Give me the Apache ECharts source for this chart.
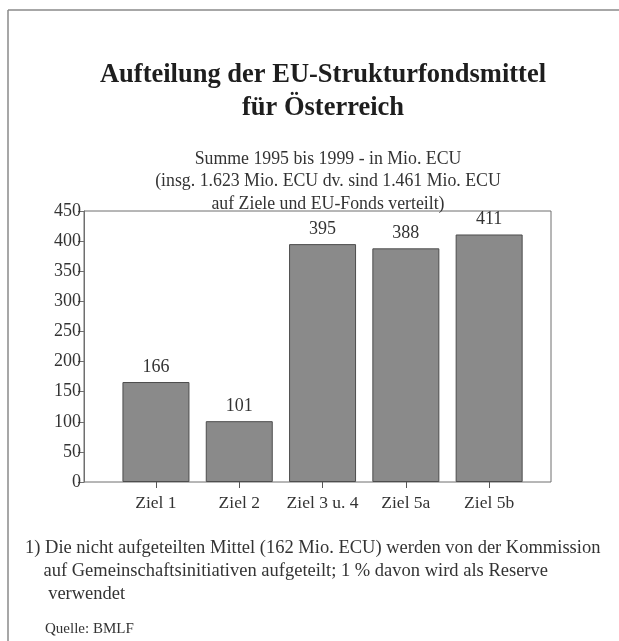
<!DOCTYPE html>
<html>
<head>
<meta charset="utf-8">
<style>
  html, body { margin: 0; padding: 0; background: #ffffff; }
  #chart { width: 619px; height: 641px; }
</style>
<script src="https://cdn.jsdelivr.net/npm/echarts@6/dist/echarts.min.js"></script>
</head>
<body>
<div id="chart"></div>
<script>
// Strukturfonds-Mittel 1995–1999 nach Zielen (Mio. ECU)
const categories = ['Ziel 1', 'Ziel 2', 'Ziel 3 u. 4', 'Ziel 5a', 'Ziel 5b'];
const values = [166, 101, 395, 388, 411];
const yTicks = [0, 50, 100, 150, 200, 250, 300, 350, 400, 450];

const titleText = 'Aufteilung der EU-Strukturfondsmittel\nfür Österreich';
const subtitleText = 'Summe 1995 bis 1999 - in Mio. ECU\n(insg. 1.623 Mio. ECU dv. sind 1.461 Mio. ECU\nauf Ziele und EU-Fonds verteilt)';
const noteLines = [
  '1) Die nicht aufgeteilten Mittel (162 Mio. ECU) werden von der Kommission',
  '    auf Gemeinschaftsinitiativen aufgeteilt; 1 % davon wird als Reserve',
  '     verwendet'
];
const sourceText = 'Quelle: BMLF';

const serif = '"Liberation Serif", "DejaVu Serif", serif';
const ink = '#333333';

const chart = echarts.init(document.getElementById('chart'), null, { renderer: 'canvas' });

chart.setOption({
  backgroundColor: '#ffffff',
  animation: false,
  title: [
    {
      text: titleText,
      left: 318, top: 54, textAlign: 'center',
      textStyle: { fontFamily: serif, fontSize: 26.5, fontWeight: 'bold', color: '#1e1e1e', lineHeight: 33 }
    },
    {
      text: subtitleText,
      left: 323, top: 143, textAlign: 'center',
      textStyle: { fontFamily: serif, fontSize: 17.8, fontWeight: 'normal', color: ink, lineHeight: 22.5, align: 'center' }
    },
    {
      text: noteLines.join('\n'),
      left: 20, top: 532,
      textStyle: { fontFamily: serif, fontSize: 18.5, fontWeight: 'normal', color: ink, lineHeight: 23 }
    },
    {
      text: sourceText,
      left: 40, top: 617,
      textStyle: { fontFamily: serif, fontSize: 15, fontWeight: 'normal', color: ink }
    }
  ],
  grid: [
    // plotting grid for the bars
    { left: 114.3, top: 211, width: 416.5, height: 271, containLabel: false },
    // outer frame of the plot area
    { left: 84, top: 211, width: 467, height: 271, show: true, borderColor: '#6f6f6f', borderWidth: 1, backgroundColor: 'transparent', z: 0 }
  ],
  xAxis: [
    {
      gridIndex: 0, type: 'category', data: categories, boundaryGap: true,
      axisLine: { show: false },
      axisTick: { show: true, alignWithLabel: true, length: 6, lineStyle: { color: '#555' } },
      axisLabel: { fontFamily: serif, fontSize: 17.5, color: ink, margin: 12, interval: 0 }
    },
    { gridIndex: 1, type: 'value', show: false, min: 0, max: 1 }
  ],
  yAxis: [
    {
      gridIndex: 0, type: 'value', min: 0, max: 450, interval: 50, offset: 30.3,
      axisLine: { show: true, lineStyle: { color: '#6f6f6f' } },
      axisTick: { show: true, length: 6, lineStyle: { color: '#6f6f6f' } },
      axisLabel: {
        fontFamily: serif, fontSize: 18, color: ink, margin: 3,
        formatter: v => (yTicks.indexOf(v) >= 0 ? String(v) : '')
      },
      splitLine: { show: false }
    },
    { gridIndex: 1, type: 'value', show: false, min: 0, max: 1 }
  ],
  series: [
    {
      type: 'bar',
      xAxisIndex: 0, yAxisIndex: 0,
      data: values,
      barWidth: 67,
      itemStyle: { color: '#8a8a8a', borderColor: '#4d4d4d', borderWidth: 1 },
      label: {
        show: true, position: 'top', distance: 6,
        fontFamily: serif, fontSize: 18, color: ink
      }
    }
  ],
  graphic: [
    // page frame: top and left rule
    { type: 'line', shape: { x1: 8, y1: 10, x2: 619, y2: 10 }, style: { stroke: '#8a8a8a', lineWidth: 1.5 } },
    { type: 'line', shape: { x1: 8, y1: 10, x2: 8, y2: 641 }, style: { stroke: '#8a8a8a', lineWidth: 1.5 } }
  ]
});
</script>
</body>
</html>
